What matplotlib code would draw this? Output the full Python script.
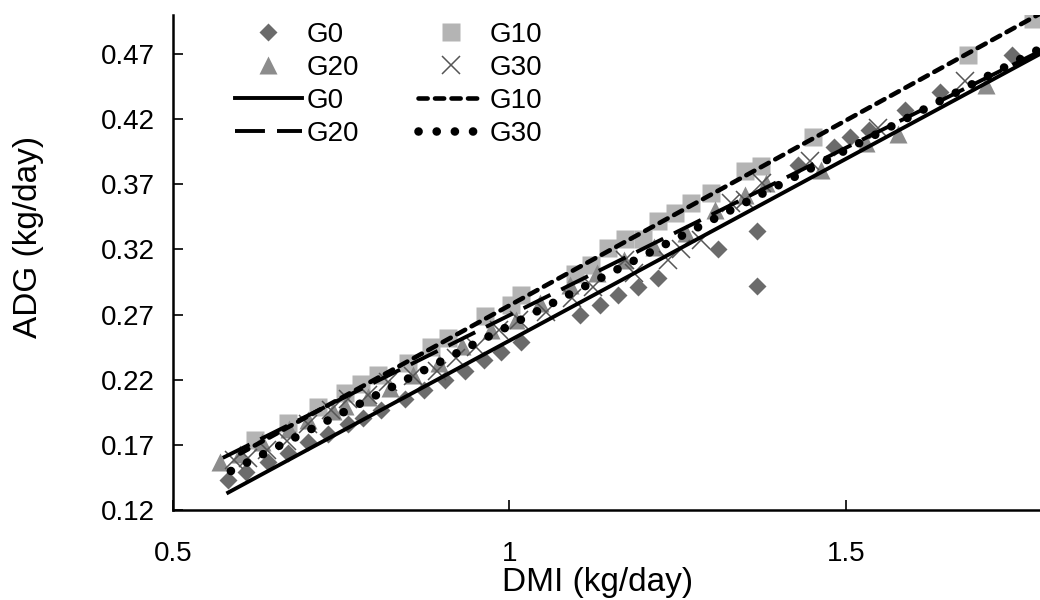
import matplotlib
matplotlib.use("Agg")
import matplotlib.pyplot as plt
import numpy as np

plt.rcParams['font.family'] = ['Liberation Sans', 'DejaVu Sans']

# ---- data ----
g0_x = [0.582, 0.608, 0.641, 0.671, 0.701, 0.730, 0.760, 0.782, 0.809, 0.845, 0.873,
        0.904, 0.934, 0.962, 0.987, 1.017, 1.105, 1.134, 1.161, 1.191, 1.221, 1.310,
        1.368, 1.368, 1.429, 1.482, 1.507, 1.534, 1.588, 1.640, 1.747]
g0_y = [0.143, 0.149, 0.157, 0.164, 0.172, 0.178, 0.186, 0.191, 0.197, 0.205, 0.212,
        0.220, 0.227, 0.235, 0.241, 0.249, 0.270, 0.277, 0.285, 0.291, 0.298, 0.320,
        0.334, 0.292, 0.385, 0.399, 0.406, 0.412, 0.427, 0.441, 0.469]

g10_x = [0.622, 0.671, 0.715, 0.756, 0.779, 0.805, 0.849, 0.883, 0.909, 0.964, 1.002,
         1.017, 1.097, 1.121, 1.146, 1.172, 1.198, 1.221, 1.246, 1.270, 1.299, 1.350,
         1.374, 1.451, 1.681, 1.778]
g10_y = [0.174, 0.187, 0.199, 0.210, 0.217, 0.224, 0.233, 0.245, 0.252, 0.269, 0.277,
         0.285, 0.301, 0.308, 0.321, 0.328, 0.328, 0.342, 0.348, 0.356, 0.363, 0.380,
         0.384, 0.406, 0.469, 0.497]

g20_x = [0.570, 0.600, 0.632, 0.672, 0.701, 0.738, 0.756, 0.790, 0.822, 0.857, 0.895,
         0.930, 0.972, 1.010, 1.045, 1.090, 1.130, 1.170, 1.215, 1.262, 1.305, 1.350,
         1.381, 1.463, 1.530, 1.577, 1.708]
g20_y = [0.157, 0.163, 0.172, 0.182, 0.189, 0.196, 0.200, 0.207, 0.214, 0.224, 0.233,
         0.246, 0.258, 0.266, 0.279, 0.293, 0.302, 0.312, 0.322, 0.333, 0.350, 0.362,
         0.371, 0.381, 0.402, 0.409, 0.446]

g30_x = [0.590, 0.612, 0.640, 0.670, 0.700, 0.735, 0.760, 0.790, 0.820, 0.856, 0.893,
         0.920, 0.950, 0.985, 1.015, 1.055, 1.093, 1.125, 1.172, 1.185, 1.236, 1.255,
         1.285, 1.329, 1.350, 1.375, 1.447, 1.548, 1.677]
g30_y = [0.158, 0.160, 0.166, 0.173, 0.186, 0.197, 0.205, 0.208, 0.218, 0.223, 0.227,
         0.237, 0.245, 0.258, 0.266, 0.272, 0.283, 0.291, 0.312, 0.302, 0.312, 0.320,
         0.327, 0.356, 0.358, 0.371, 0.388, 0.413, 0.449]

# trendlines: slope, intercept, x start
trend_slope = [0.279, 0.284, 0.257, 0.2695]
trend_icpt = [-0.029, -0.007, 0.0125, -0.008]
trend_x0 = [0.582, 0.600, 0.574, 0.586]
trend_x1 = 1.80

xticks = [0.5, 1.0, 1.5]
xtick_labels = ['0.5', '1', '1.5']
yticks = [0.12, 0.17, 0.22, 0.27, 0.32, 0.37, 0.42, 0.47]

# ---- figure ----
fig = plt.figure(figsize=(10.4, 6.0), dpi=100)
W, H = 1040, 600
ax = fig.add_axes([173 / W, 1 - 510 / H, (1040 - 173) / W, (510 - 15) / H])

c0, c10, c20, c30 = '#6b6b6b', '#b4b4b4', '#8c8c8c', '#555555'

h_g0, = ax.plot(g0_x, g0_y, 'D', color=c0, ms=9.5, mec='none', zorder=2)
h_g10, = ax.plot(g10_x, g10_y, 's', color=c10, ms=12.5, mec='none', zorder=2)
h_g20, = ax.plot(g20_x, g20_y, '^', color=c20, ms=13, mec='none', zorder=2)
h_g30, = ax.plot(g30_x, g30_y, 'x', color=c30, ms=13, mew=1.1, zorder=2)

styles = [
    dict(ls='-', lw=2.8),
    dict(ls=(0, (2.0, 1.6)), lw=3.3, dash_capstyle='round'),
    dict(ls=(0, (7.7, 3.1)), lw=2.8),
    dict(ls=(0, (0.01, 2.1)), lw=6.2, dash_capstyle='round'),
]
line_handles = []
for i in range(4):
    xs = np.array([trend_x0[i], trend_x1])
    ys = trend_slope[i] * xs + trend_icpt[i]
    h, = ax.plot(xs, ys, color='black', zorder=3, **styles[i])
    line_handles.append(h)

ax.set_xlim(0.5, 0.5 + (1040 - 174) / 672)
ax.set_ylim(0.12, 0.50)
ax.set_xticks(xticks)
ax.set_xticklabels(xtick_labels)
ax.set_yticks(yticks)
ax.set_yticklabels([f'{v:.2f}' for v in yticks])
ax.tick_params(direction='in', length=7, width=1.2, labelsize=20, colors='black')
ax.tick_params(axis='y', pad=13)
ax.tick_params(axis='x', pad=22)
for s in ['top', 'right']:
    ax.spines[s].set_visible(False)
for s in ['left', 'bottom']:
    ax.spines[s].set_linewidth(1.8)
    ax.spines[s].set_color('black')

fig.text(598 / W, 1 - 583 / H, 'DMI (kg/day)', ha='center', va='center', fontsize=24)
fig.text(29 / W, 1 - 237 / H, 'ADG (kg/day)', ha='center', va='center', fontsize=24,
         rotation=90)

handles = [h_g0, h_g20, line_handles[0], line_handles[2],
           h_g10, h_g30, line_handles[1], line_handles[3]]
names = ['G0', 'G20', 'G0', 'G20', 'G10', 'G30', 'G10', 'G30']
leg = ax.legend(handles, names, ncol=2, loc='upper left',
                bbox_to_anchor=(235 / W, 1 - 22 / H), bbox_transform=fig.transFigure,
                frameon=False, fontsize=20, handlelength=2.4, handletextpad=0.18,
                columnspacing=2.1, labelspacing=0.25, borderpad=0, borderaxespad=0)

fig.savefig('out.png', dpi=100)
